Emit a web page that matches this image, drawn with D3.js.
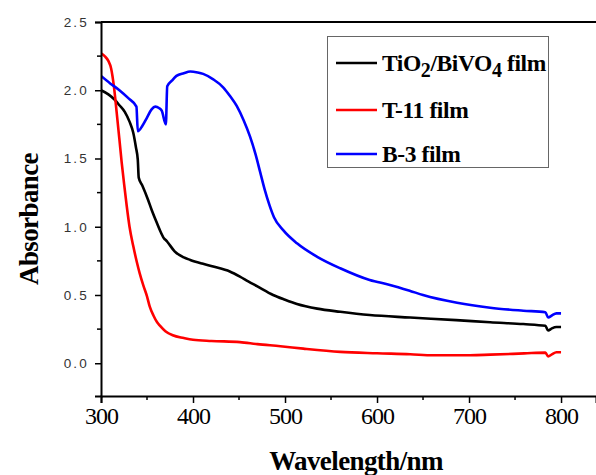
<!DOCTYPE html>
<html>
<head>
<meta charset="utf-8">
<script src="https://cdn.jsdelivr.net/npm/d3@7"></script>
<style>
  body { margin: 0; background: #fff; }
  svg { display: block; }
</style>
</head>
<body>
<div id="chart"></div>
<script>
  // Spectra: [wavelength nm, absorbance]
  const tioBivo = [
    [300, 2.00], [308, 1.97], [315, 1.93], [320, 1.89], [326, 1.84], [331, 1.77],
    [335, 1.69], [338, 1.58], [340, 1.49], [341, 1.36], [345, 1.30], [351, 1.20],
    [355, 1.125], [360, 1.04], [365, 0.96], [369, 0.91], [370, 0.905], [372, 0.89],
    [380, 0.82], [390, 0.775], [397, 0.757], [410, 0.73], [422, 0.708], [440, 0.672],
    [451, 0.635], [460, 0.60], [470, 0.563], [487, 0.50], [500, 0.465], [513, 0.434],
    [535, 0.40], [560, 0.377], [592, 0.353], [636, 0.335], [686, 0.316], [723, 0.30],
    [759, 0.287], [783, 0.274], [786, 0.24], [790, 0.255], [795, 0.265], [800, 0.265]
  ];
  const t11 = [
    [300, 2.27], [304, 2.25], [308, 2.215], [311, 2.16], [314, 2.03], [317, 1.84],
    [320, 1.64], [322.5, 1.47], [325, 1.32], [328, 1.15], [331, 1.00], [335, 0.86],
    [339, 0.74], [342, 0.66], [346, 0.57], [350, 0.49], [353, 0.414], [357, 0.35],
    [361, 0.30], [364, 0.275], [370, 0.235], [378, 0.205], [390, 0.185], [400, 0.172],
    [420, 0.163], [451, 0.155], [470, 0.14], [495, 0.125], [520, 0.107], [560, 0.083],
    [600, 0.073], [636, 0.066], [661, 0.058], [690, 0.058], [723, 0.063], [760, 0.072],
    [783, 0.078], [786, 0.05], [790, 0.065], [795, 0.08], [800, 0.08]
  ];
  const b3 = [
    [300, 2.105], [310, 2.05], [320, 2.00], [330, 1.94], [338.5, 1.88], [340, 1.70],
    [345, 1.74], [350, 1.80], [355, 1.86], [359, 1.88], [363, 1.87], [366, 1.85],
    [370.5, 1.75], [372, 2.03], [377, 2.07], [382, 2.105], [390, 2.125], [397, 2.137],
    [405, 2.13], [411, 2.12], [422, 2.08], [433, 2.02], [440, 1.96], [447.5, 1.885],
    [455, 1.78], [462, 1.66], [468, 1.53], [473, 1.40], [478, 1.27], [483, 1.16],
    [488, 1.07], [498, 0.975], [513, 0.879], [535, 0.78], [560, 0.696], [592, 0.61],
    [614, 0.574], [636, 0.53], [650, 0.50], [687, 0.443], [723, 0.407], [759, 0.385],
    [783, 0.373], [786, 0.335], [790, 0.35], [795, 0.365], [800, 0.365]
  ];

  const seriesNames = ["TiO2/BiVO4 film", "T-11 film", "B-3 film"];
  const seriesColors = ["#000000", "#ff0000", "#0000ff"];
  const allSeries = [tioBivo, t11, b3];

  const xTicks = [300, 400, 500, 600, 700, 800];
  const xMinor = [350, 450, 550, 650, 750];
  const yTicks = [0, 0.5, 1.0, 1.5, 2.0, 2.5];
  const yMinor = [0.25, 0.75, 1.25, 1.75, 2.25];

  const width = 596, height = 475;
  const margin = { top: 22, right: 0, bottom: 79, left: 101 };

  const x = d3.scaleLinear().domain([300, 838]).range([margin.left, width - margin.right]);
  const y = d3.scaleLinear().domain([-0.24, 2.5]).range([height - margin.bottom, margin.top]);

  const svg = d3.select("#chart").append("svg")
    .attr("width", width)
    .attr("height", height);

  svg.append("clipPath").attr("id", "plot")
    .append("rect")
    .attr("x", margin.left).attr("y", margin.top)
    .attr("width", width - margin.left).attr("height", height - margin.bottom - margin.top);

  // spectra
  const line = d3.line().x(d => x(d[0])).y(d => y(d[1])).curve(d3.curveMonotoneX);
  svg.append("g").attr("clip-path", "url(#plot)")
    .selectAll("path")
    .data(allSeries)
    .join("path")
    .attr("d", line)
    .attr("fill", "none")
    .attr("stroke", (d, i) => seriesColors[i])
    .attr("stroke-width", 2.6)
    .attr("stroke-linejoin", "round");

  // frame top line
  svg.append("line")
    .attr("x1", margin.left).attr("x2", width)
    .attr("y1", y(2.5)).attr("y2", y(2.5))
    .attr("stroke", "#000").attr("stroke-width", 2);

  // x axis
  const xAxis = svg.append("g")
    .attr("transform", `translate(0,${height - margin.bottom})`)
    .call(d3.axisBottom(x).tickValues(xTicks).tickSize(7).tickPadding(4));
  xAxis.append("g")
    .selectAll("line")
    .data(xMinor)
    .join("line")
    .attr("x1", d => x(d)).attr("x2", d => x(d))
    .attr("y1", 0).attr("y2", 4)
    .attr("stroke", "#000").attr("stroke-width", 1.5);
  xAxis.select(".domain").attr("stroke-width", 2);
  xAxis.selectAll(".tick line").attr("stroke-width", 1.5);
  xAxis.selectAll(".tick text")
    .attr("font-family", "Liberation Serif, Times New Roman, serif")
    .attr("font-size", 24)
    .attr("letter-spacing", -1)
    .attr("fill", "#000");

  // y axis
  const yAxis = svg.append("g")
    .attr("transform", `translate(${margin.left},0)`)
    .call(d3.axisLeft(y).tickValues(yTicks).tickFormat(d3.format(".1f")).tickSize(6).tickPadding(6));
  yAxis.append("g")
    .selectAll("line")
    .data(yMinor)
    .join("line")
    .attr("x1", 0).attr("x2", -4)
    .attr("y1", d => y(d)).attr("y2", d => y(d))
    .attr("stroke", "#000").attr("stroke-width", 1.5);
  yAxis.select(".domain").attr("stroke-width", 2);
  yAxis.selectAll(".tick line").attr("stroke-width", 1.5);
  yAxis.selectAll(".tick text")
    .attr("font-family", "Liberation Sans, Arial, sans-serif")
    .attr("font-size", 13.5)
    .attr("letter-spacing", 2.2)
    .attr("fill", "#333");

  // axis titles
  svg.append("text")
    .attr("x", 356).attr("y", 470)
    .attr("text-anchor", "middle")
    .attr("font-family", "Liberation Serif, Times New Roman, serif")
    .attr("font-weight", "bold")
    .attr("font-size", 27)
    .attr("letter-spacing", -0.6)
    .text("Wavelength/nm");

  svg.append("text")
    .attr("transform", "translate(38,219) rotate(-90)")
    .attr("text-anchor", "middle")
    .attr("font-family", "Liberation Serif, Times New Roman, serif")
    .attr("font-weight", "bold")
    .attr("font-size", 27)
    .attr("letter-spacing", -0.6)
    .text("Absorbance");

  // legend
  const legend = svg.append("g");
  legend.append("rect")
    .attr("x", 327.5).attr("y", 36.5)
    .attr("width", 221).attr("height", 131)
    .attr("fill", "#fff")
    .attr("stroke", "#666").attr("stroke-width", 1);

  const rowY = [63, 110, 154];
  const rows = legend.selectAll("g.row")
    .data(seriesNames)
    .join("g")
    .attr("class", "row")
    .attr("transform", (d, i) => `translate(0,${rowY[i]})`);
  rows.append("line")
    .attr("x1", 336).attr("x2", 377)
    .attr("stroke", (d, i) => seriesColors[i])
    .attr("stroke-width", 2.4);

  const legendText = rows.append("text")
    .attr("x", 382).attr("y", 7.5)
    .attr("font-family", "Liberation Serif, Times New Roman, serif")
    .attr("font-weight", "bold")
    .attr("font-size", 23.5)
    .attr("letter-spacing", -0.4);

  legendText.each(function(d) {
    const t = d3.select(this);
    // digits in the chemical formula become subscripts
    const formula = d.startsWith("TiO");
    let shift = 0;
    d.split(/(\d)/).forEach(p => {
      if (p === "") return;
      const sub = formula && /^\d$/.test(p);
      const target = sub ? 6 : 0;
      const span = t.append("tspan").attr("dy", target - shift).text(p);
      if (sub) span.attr("font-size", 20);
      shift = target;
    });
  });
</script>
</body>
</html>
